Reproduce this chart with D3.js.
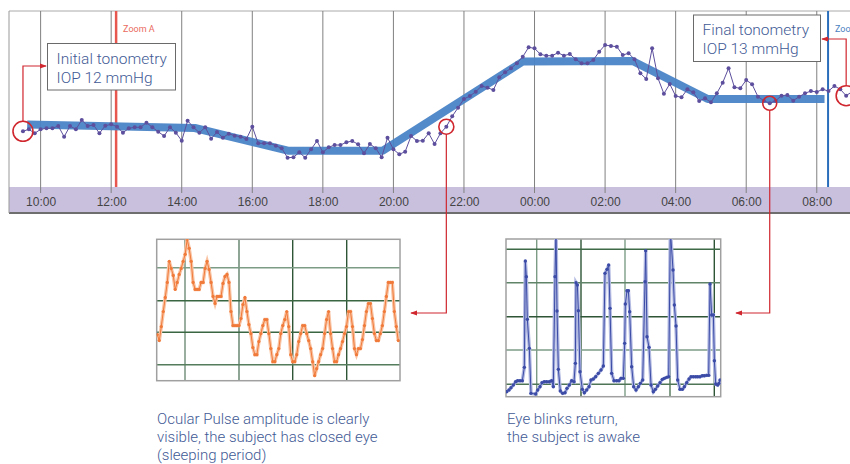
<html>
<head>
<script src="https://d3js.org/d3.v7.min.js"></script>
<style>
  body { margin: 0; background: #fff; }
  text { font-family: Roboto, "Liberation Sans", sans-serif; }
</style>
</head>
<body>
<script>
// ---- data ----
// raw sensor signal, one sample every 10 min from 09:30 (arbitrary units)
const signalStart = 9.5;
const signalStep = 1 / 6;
const signal = [55.7,57.7,53.7,57.7,58.7,58.7,61,50.3,61,57.7,67,61,62,53.7,61.3,62.7,60.3,54.3,58.7,59.7,59.7,64.3,59.7,55.3,51,59.7,54.3,46.3,66.3,59.7,54.3,59.7,48.3,
  55,49.3,53.3,51.3,50.3,48,60.3,43.7,43.7,43.7,41.3,38.7,29.3,29.7,34.7,29.3,37.7,46,34.7,39.7,42,42,44.7,46,42.7,33.7,43,38.7,29.7,49.3,37.7,32.7,35.3,51,46,46.3,53.7,
  43,53.7,60.3,70.7,79.3,88,91,95.3,101,99.3,97,109.7,114.7,118.7,123.7,130.3,139.7,138.7,132.7,131.3,131.3,134.3,131.3,133,127.7,123.7,123.7,127,135.3,142,141,140.3,132,133.7,
  127.7,113.7,108,138.7,108.7,93.3,103,91,89.7,97.7,94.7,86,88.7,84.7,93.7,104.3,118.7,99.7,98.7,107,102.7,90.3,86.3,83.7,86.3,91.3,92,86.3,90.3,93.7,96,95,97.7,96,101,97.7,91.3,95.3];

// smoothed trend (hours, units)
const trendHours = [9.62, 14.37, 17.01, 19.70, 23.67, 26.78, 28.91, 32.22];
const trendValues = [62.5, 59, 36.3, 36.3, 125.5, 126, 88, 88];

const tickHours = [10, 12, 14, 16, 18, 20, 22, 24, 26, 28, 30, 32];
const tickLabels = ["10:00","12:00","14:00","16:00","18:00","20:00","22:00","00:00","02:00","04:00","06:00","08:00"];

const zoomHours = [12.14, 32.32];
const zoomLabels = ["Zoom A", "Zoom B"];

// samples picked out with circles
const markedSamples = [0, 72, 127, 140];

// zoom 1: ocular pulse (one sample per index)
const pulse = [46,40,54,69,83,98,119,112,105,91,98,106,112,119,126,141,132,119,98,91,91,91,98,98,112,119,111,98,84,77,
  84,84,84,97,104,106,98,69,55,55,55,55,62,76,83,69,56,47,33,26,26,39,47,55,61,61,47,32,19,19,
  26,32,47,55,61,69,54,26,19,19,26,39,47,55,55,47,40,32,19,5,12,19,26,32,47,61,69,47,32,19,
  19,26,32,39,47,54,69,69,54,32,26,32,32,41,55,69,77,77,62,47,40,40,47,55,69,84,98,98,98,69,54,40];

// zoom 2: eye blinks (seconds, units)
const blinkT = [0.2,0.9,1.5,2.2,2.9,3.5,4.2,4.9,5.5,5.8,6.1,6.4,7.0,7.5,8.9,9.5,10.2,10.8,11.5,12.2,13.0,13.7,14.2,14.7,15.0,15.3,15.7,16.3,17.0,17.7,
  18.3,19.0,19.7,20.4,20.8,21.0,21.4,21.7,22.2,22.9,23.5,24.2,24.9,25.5,26.2,26.9,27.7,28.5,29.2,29.7,30.3,30.8,31.2,31.7,32.4,33.2,33.9,34.5,35.2,35.6,
  35.8,36.3,36.7,37.1,37.7,38.3,39.0,39.7,40.3,41.0,41.7,41.9,42.3,42.9,43.5,44.2,44.8,45.5,46.2,46.9,47.5,48.2,48.8,49.3,50.1,50.5,51.0,51.5,52.2,52.9,
  53.5,54.2,54.9,55.5,56.2,56.9,57.5,58.2,58.9,59.5,60.2,60.8,61.2,61.7,62.2,62.5,62.9,63.5,63.9,64.2];
const blinkV = [1.5,2.0,2.7,3.5,4.5,4.8,4.8,4.8,8.8,40.7,36.0,23.2,14.5,1.0,0.8,2.0,3.0,4.2,4.5,4.5,4.5,4.8,3.0,36,50,25.7,8.2,1.7,1.0,1.2,
  2.5,3.5,4.8,4.5,10,34.2,33.5,25.8,7.5,2.2,1.2,2.0,3.0,5.0,5.3,6.0,7.0,8.0,9.2,37,38.2,39.5,26.5,7.0,4.8,4.8,4.8,5.5,5.5,16.0,
  27.8,31.8,31.8,25.5,9.0,3.0,2.0,3.0,4.0,5.0,34.5,43.8,18.0,14.8,3.5,1.5,2.2,3.2,4.2,5.2,5.5,5.8,6.0,50,38,27.5,21.2,5.0,2.2,2.2,
  3.0,4.2,5.3,6.0,6.0,6.0,6.0,6.0,6.3,6.3,6.4,6.4,33.8,24.5,24.5,10.8,3.8,3.5,4.0,5.0];

// ---- layout ----
const width = 850, height = 464;
const plot = {left: 9, right: 850, top: 11, bottom: 187};
const bandBottom = 213;
const red = "#d0262e";
const textBlue = "#3f5a95";

const svg = d3.select("body").append("svg")
  .attr("width", width)
  .attr("height", height);

const defs = svg.append("defs");
defs.append("marker")
  .attr("id", "arrow")
  .attr("viewBox", "0 0 8 8")
  .attr("refX", 7).attr("refY", 4)
  .attr("markerWidth", 6).attr("markerHeight", 6)
  .attr("orient", "auto")
  .append("path")
  .attr("d", "M0,1 L8,4 L0,7 Z")
  .attr("fill", red);

defs.append("clipPath").attr("id", "plotClip")
  .append("rect")
  .attr("x", plot.left).attr("y", plot.top)
  .attr("width", plot.right - plot.left).attr("height", plot.bottom - plot.top);

let xScale = d3.scaleLinear().domain([9.104, 32.942]).range([plot.left, plot.right]);
let yScale = d3.scaleLinear().domain([0, 176]).range([plot.bottom, plot.top]);

// axis band
svg.append("rect")
  .attr("x", plot.left).attr("y", plot.bottom)
  .attr("width", plot.right - plot.left).attr("height", bandBottom - plot.bottom)
  .attr("fill", "#c9c0de");
svg.append("line")
  .attr("x1", plot.left).attr("x2", plot.right)
  .attr("y1", bandBottom).attr("y2", bandBottom)
  .attr("stroke", "#6e6e6e").attr("stroke-width", 2);
svg.append("line")
  .attr("x1", plot.left).attr("x2", plot.right)
  .attr("y1", plot.top).attr("y2", plot.top)
  .attr("stroke", "#aaa");
svg.append("line")
  .attr("x1", plot.left).attr("x2", plot.left)
  .attr("y1", plot.top).attr("y2", bandBottom)
  .attr("stroke", "#999");

// gridlines
svg.append("g").selectAll("line").data(tickHours)
  .join("line")
  .attr("x1", d => xScale(d)).attr("x2", d => xScale(d))
  .attr("y1", plot.top).attr("y2", plot.bottom + 6)
  .attr("stroke", "#808080").attr("stroke-width", 1);

let bottomAxis = d3.axisBottom(xScale).tickValues(tickHours)
  .tickFormat((d, i) => tickLabels[i]).tickSize(0).tickPadding(10);
let axisG = svg.append("g")
  .attr("transform", `translate(0, ${plot.bottom})`)
  .call(bottomAxis);
axisG.select(".domain").remove();
axisG.selectAll("text")
  .attr("fill", "#444")
  .style("font-family", "'Liberation Sans Narrow', 'Liberation Sans', sans-serif")
  .style("font-size", "12px");

// zoom markers
const zoomColors = ["#e8574f", "#2a6ebb"];
const zoomTextColors = ["#ea6a60", "#4a7fc1"];
zoomHours.forEach((h, i) => {
  svg.append("line")
    .attr("x1", xScale(h)).attr("x2", xScale(h))
    .attr("y1", plot.top).attr("y2", plot.bottom)
    .attr("stroke", zoomColors[i]).attr("stroke-width", i == 0 ? 2.5 : 2);
  svg.append("text")
    .attr("x", xScale(h) + 7).attr("y", 32)
    .text(zoomLabels[i])
    .attr("fill", zoomTextColors[i])
    .style("font-size", "9px");
});

let chartArea = svg.append("g").attr("clip-path", "url(#plotClip)");

// trend band
let trendLine = d3.line()
  .x((d, i) => xScale(trendHours[i]))
  .y(d => yScale(d));
chartArea.append("path")
  .datum(trendValues)
  .attr("d", trendLine)
  .attr("fill", "none")
  .attr("stroke", "#4a84c6")
  .attr("stroke-width", 8)
  .attr("stroke-linejoin", "round")
  .attr("opacity", 0.95);

// raw signal
const sigHour = i => signalStart + i * signalStep;
let sigLine = d3.line()
  .x((d, i) => xScale(sigHour(i)))
  .y(d => yScale(d));
chartArea.append("path")
  .datum(signal)
  .attr("d", sigLine)
  .attr("fill", "none")
  .attr("stroke", "#5d4f9d")
  .attr("stroke-width", 1);
chartArea.selectAll("circle.pt").data(signal)
  .join("circle")
  .attr("class", "pt")
  .attr("cx", (d, i) => xScale(sigHour(i)))
  .attr("cy", d => yScale(d))
  .attr("r", 2)
  .attr("fill", "#5d4f9d");

// annotation boxes
function noteBox(x, y, w, h, lines) {
  svg.append("rect")
    .attr("x", x).attr("y", y).attr("width", w).attr("height", h)
    .attr("fill", "#fff").attr("stroke", "#6a6a6a").attr("stroke-width", 1);
  lines.forEach((t, i) => {
    svg.append("text")
      .attr("x", x + 9).attr("y", y + 20 + i * 19)
      .text(t)
      .attr("fill", textBlue)
      .style("font-size", "15.5px")
      .style("font-weight", 300);
  });
}
noteBox(47.5, 43.5, 128, 46.5, ["Initial tonometry", "IOP 12 mmHg"]);
noteBox(693.5, 15, 127, 46.5, ["Final tonometry", "IOP 13 mmHg"]);

// circled samples and connectors
const circleR = [10, 7.5, 7, 10];
markedSamples.forEach((k, i) => {
  svg.append("circle")
    .attr("cx", xScale(sigHour(k)))
    .attr("cy", yScale(signal[k]))
    .attr("r", circleR[i])
    .attr("fill", "none")
    .attr("stroke", red)
    .attr("stroke-width", 1.6);
});

function connector(points) {
  svg.append("path")
    .attr("d", d3.line()(points))
    .attr("fill", "none")
    .attr("stroke", red)
    .attr("stroke-width", 1.2)
    .attr("marker-end", "url(#arrow)");
}
{
  let cx = xScale(sigHour(markedSamples[0])), cy = yScale(signal[markedSamples[0]]);
  connector([[cx, cy - circleR[0]], [cx, 66], [46, 66]]);
  cx = xScale(sigHour(markedSamples[1])); cy = yScale(signal[markedSamples[1]]);
  connector([[cx, cy + circleR[1]], [cx, 313], [411, 313]]);
  cx = xScale(sigHour(markedSamples[2])); cy = yScale(signal[markedSamples[2]]);
  connector([[cx, cy + circleR[2]], [cx, 313], [736, 313]]);
  cx = xScale(sigHour(markedSamples[3])); cy = yScale(signal[markedSamples[3]]);
  connector([[cx, cy - circleR[3]], [cx, 39], [822, 39]]);
}

// ---- insets ----
function inset(box, vGrid, hGrid, gridColorsV, gridColorsH, id) {
  defs.append("clipPath").attr("id", id)
    .append("rect")
    .attr("x", box.x0).attr("y", box.y0)
    .attr("width", box.x1 - box.x0).attr("height", box.y1 - box.y0);
  let g = svg.append("g");
  g.append("rect")
    .attr("x", box.x0).attr("y", box.y0)
    .attr("width", box.x1 - box.x0).attr("height", box.y1 - box.y0)
    .attr("fill", "#fff");
  vGrid.forEach((x, i) => g.append("line")
    .attr("x1", x).attr("x2", x).attr("y1", box.y0).attr("y2", box.y1)
    .attr("stroke", gridColorsV[i]).attr("stroke-width", 1.4));
  hGrid.forEach((y, i) => g.append("line")
    .attr("x1", box.x0).attr("x2", box.x1).attr("y1", y).attr("y2", y)
    .attr("stroke", gridColorsH[i]).attr("stroke-width", 1.4));
  g.append("rect")
    .attr("x", box.x0).attr("y", box.y0)
    .attr("width", box.x1 - box.x0).attr("height", box.y1 - box.y0)
    .attr("fill", "none").attr("stroke", "#a0a0a0").attr("stroke-width", 1.5);
  return g.append("g").attr("clip-path", `url(#${id})`);
}

// inset 1: pulse
const box1 = {x0: 156.7, y0: 239.3, x1: 400, y1: 380.7};
let in1 = inset(box1,
  [185, 239, 292.7, 346.7], [267.7, 300.7, 332.3, 364.7],
  ["#6f8c78", "#5f7f69", "#2e5535", "#2e5535"],
  ["#7c9c85", "#3a6642", "#3a6642", "#557c5d"], "clip1");
let px = d3.scaleLinear().domain([0, pulse.length - 1]).range([157.3, 398.3]);
let py = d3.scaleLinear().domain([0, 141]).range([box1.y1, box1.y0]);
let pulseLine = d3.line().x((d, i) => px(i)).y(d => py(d));
in1.append("path").datum(pulse).attr("d", pulseLine)
  .attr("fill", "none").attr("stroke", "#f9c4a4").attr("stroke-width", 3.5);
in1.append("path").datum(pulse).attr("d", pulseLine)
  .attr("fill", "none").attr("stroke", "#f07a3a").attr("stroke-width", 1);
in1.selectAll("circle").data(pulse).join("circle")
  .attr("cx", (d, i) => px(i)).attr("cy", d => py(d))
  .attr("r", 1.6).attr("fill", "#f07a3a");

// inset 2: blinks
const box2 = {x0: 506, y0: 239, x1: 720.7, y1: 396.7};
let in2 = inset(box2,
  [536.7, 581, 625, 670, 714.3], [249.3, 282.7, 316.7, 350, 384.3],
  ["#7d9c86", "#2e5535", "#7d9c86", "#4f7557", "#2e5535"],
  ["#3f6a47", "#5f8468", "#2e5535", "#7d9c86", "#4f7557"], "clip2");
let bx = d3.scaleLinear().domain([0, 64.4]).range([box2.x0, box2.x1]);
let by = d3.scaleLinear().domain([0, 47.3]).range([box2.y1, box2.y0]);
let blinkLine = d3.line().x((d, i) => bx(blinkT[i])).y(d => by(d));
in2.append("path").datum(blinkV).attr("d", blinkLine)
  .attr("fill", "none").attr("stroke", "#b3bae2").attr("stroke-width", 3.5);
in2.append("path").datum(blinkV).attr("d", blinkLine)
  .attr("fill", "none").attr("stroke", "#3b4ba6").attr("stroke-width", 1);
in2.selectAll("circle").data(blinkV).join("circle")
  .attr("cx", (d, i) => bx(blinkT[i])).attr("cy", d => by(d))
  .attr("r", 1.7).attr("fill", "#3b4ba6");

// captions
function caption(x, lines) {
  lines.forEach((t, i) => {
    svg.append("text")
      .attr("x", x).attr("y", 424 + i * 18)
      .text(t)
      .attr("fill", textBlue)
      .style("font-size", "15px")
      .style("font-weight", 300);
  });
}
caption(157, ["Ocular Pulse amplitude is clearly", "visible, the subject has closed eye", "(sleeping period)"]);
caption(507, ["Eye blinks return,", "the subject is awake"]);
</script>
</body>
</html>
